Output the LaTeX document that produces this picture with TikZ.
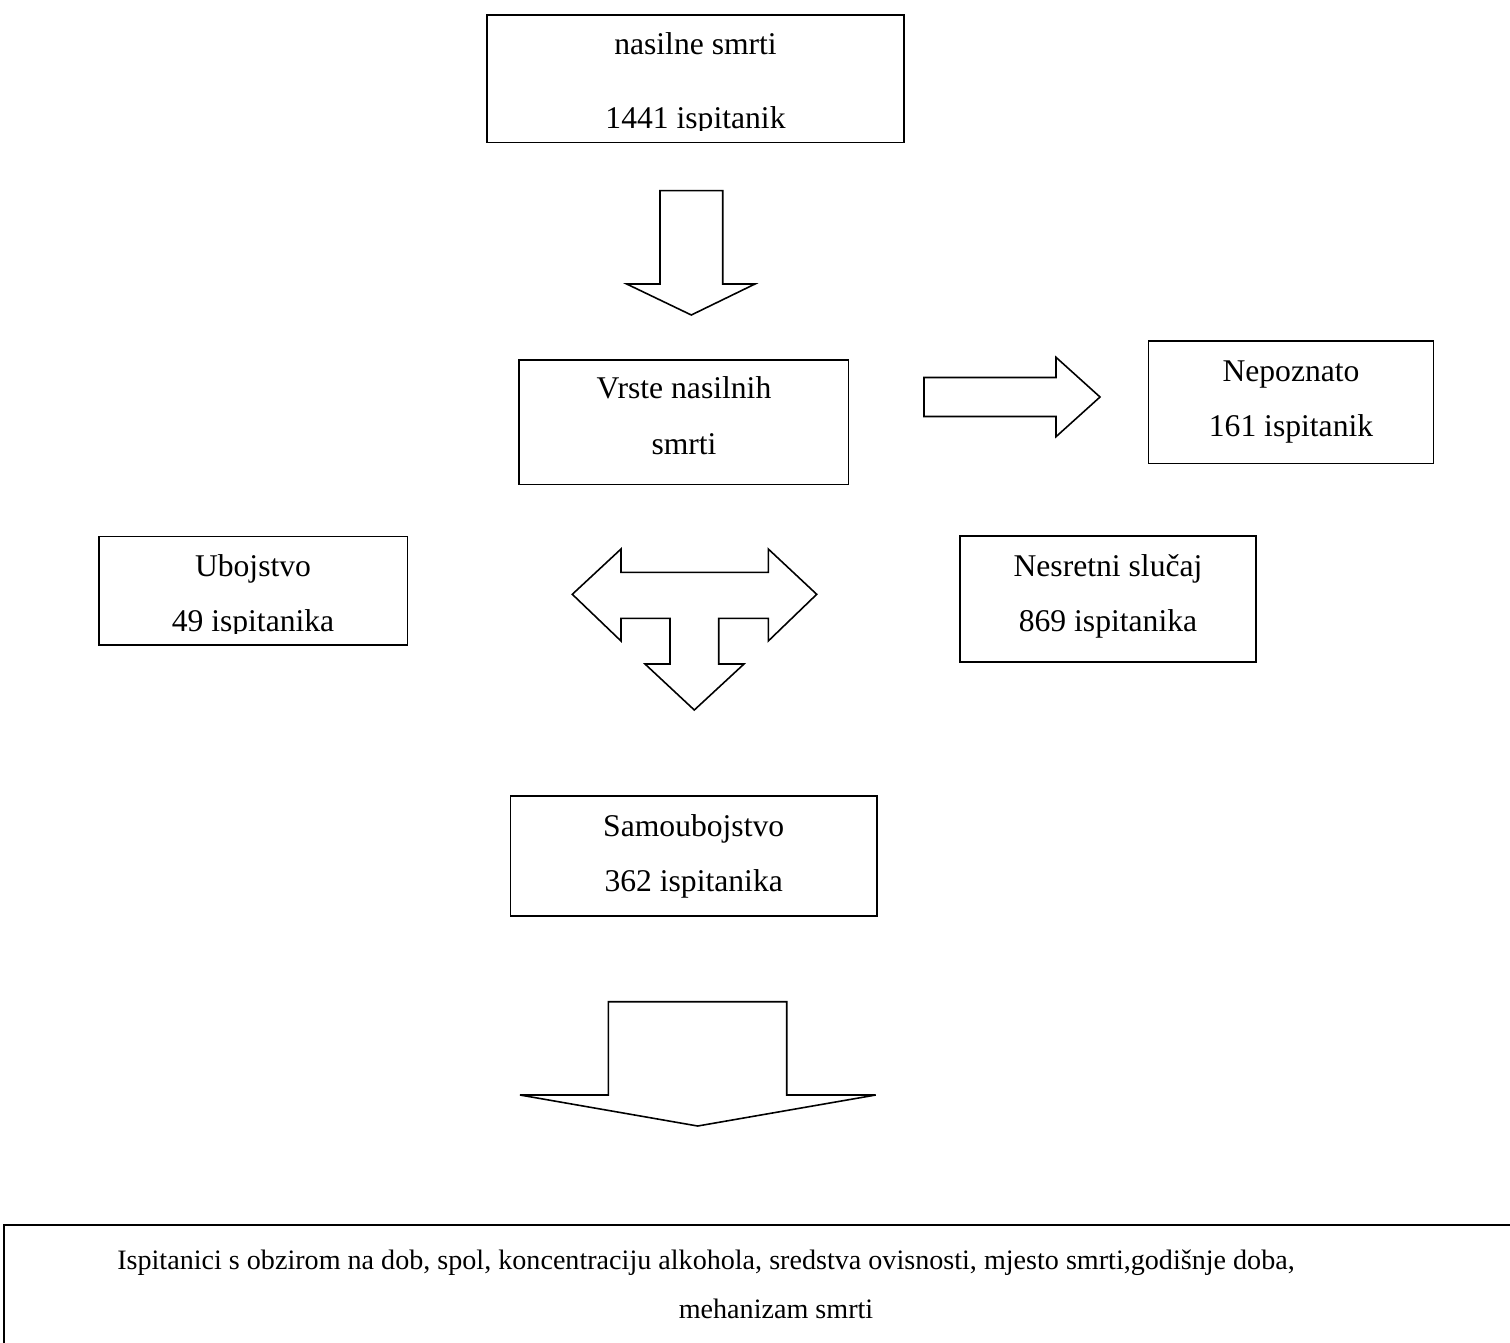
\documentclass[tikz,border=0pt]{standalone}
\usepackage{fontspec}
\setmainfont{Liberation Serif}
\usetikzlibrary{fit}

\begin{document}
\begin{tikzpicture}[x=0.02cm, y=-0.02cm, line width=0.9pt,
    box/.style={draw, inner sep=0pt},
    txt/.style={anchor=base, inner sep=0pt, font=\fontsize{18}{22}\selectfont},
    smalltxt/.style={anchor=base, inner sep=0pt, font=\fontsize{16}{20}\selectfont}]
				\useasboundingbox (0,0) rectangle (1510,1342);
				\clip (0,0) rectangle (1510,1342);

				% Boxes
				\node[box, fit={(487,15) (904,142.5)}] (nasilne) {};
				\node[box, fit={(519,360) (848.5,484.5)}] (vrste) {};
				\node[box, fit={(1148.3,341) (1433.3,463.3)}] (nepoznato) {};
				\node[box, fit={(99,536.7) (407.5,645)}] (ubojstvo) {};
				\node[box, fit={(960,536) (1256,661.7)}] (nesretni) {};
				\node[box, fit={(510.7,796) (876.7,916)}] (samoubojstvo) {};
				\node[box, line width=1.5pt, fit={(4,1225) (1560,1400)}] (ispitanici) {};

				% Texts
				\node[txt] (nasilne-a) at (695.5,54) {nasilne smrti};
				\begin{scope}
					\clip (487,15) rectangle (904,130);
					\node[txt] (nasilne-b) at (695.5,128) {1441 ispitanik};
				\end{scope}
				\node[txt] (vrste-a) at (684,398) {Vrste nasilnih};
				\node[txt] (vrste-b) at (684,454) {smrti};
				\node[txt] (nepoznato-a) at (1291,381.5) {Nepoznato};
				\node[txt] (nepoznato-b) at (1291,436) {161 ispitanik};
				\node[txt] (ubojstvo-a) at (253,576) {Ubojstvo};
				\begin{scope}
					\clip (99,536.7) rectangle (407.5,633);
					\node[txt] (ubojstvo-b) at (253,631) {49 ispitanika};
				\end{scope}
				\node[txt] (nesretni-a) at (1108,576.5) {Nesretni slučaj};
				\node[txt] (nesretni-b) at (1108,631.5) {869 ispitanika};
				\node[txt] (samoubojstvo-a) at (693.7,836) {Samoubojstvo};
				\node[txt] (samoubojstvo-b) at (693.7,891.5) {362 ispitanika};
				\node[smalltxt] (ispitanici-a) at (706,1269) {Ispitanici s obzirom na dob, spol, koncentraciju alkohola, sredstva ovisnosti, mjesto smrti,godišnje doba,};
				\node[smalltxt] (ispitanici-b) at (776,1318) {mehanizam smrti};

				% Arrow down
				\draw (660,190.7) -- (722.7,190.7) -- (722.7,284) -- (755,284) -- (691.3,315)
					-- (626.7,284) -- (660,284) -- cycle;

				% Arrow right
				\draw (924,377.5) -- (1056,377.5) -- (1056,357.3) -- (1100,397) -- (1056,436.7)
					-- (1056,416.5) -- (924,416.5) -- cycle;

				% Arrow left, right and down
				\draw (572.3,594.3) -- (621,549) -- (621,572.3) -- (768.3,572.3) -- (768.3,549)
					-- (816.7,594.3) -- (768.3,641) -- (768.3,618.3) -- (718.7,618.3)
					-- (718.7,664) -- (744,664) -- (694.3,710) -- (645,664) -- (670,664)
					-- (670,618.3) -- (621,618.3) -- (621,641) -- cycle;

				% Wide arrow down
				\draw (608.3,1001.7) -- (786.7,1001.7) -- (786.7,1095) -- (875.7,1095)
					-- (697.7,1126) -- (520,1095) -- (608.3,1095) -- cycle;
\end{tikzpicture}
\end{document}
